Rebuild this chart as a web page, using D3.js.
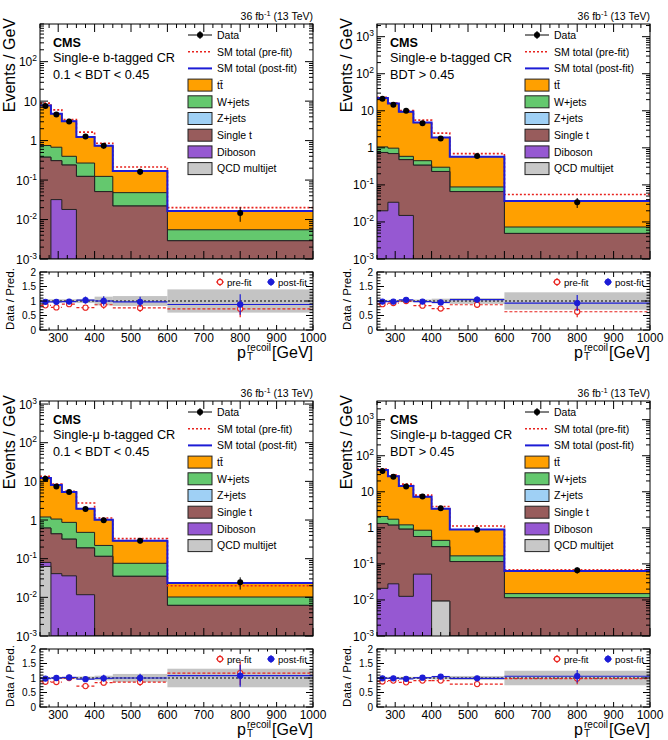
<!DOCTYPE html>
<html lang="en">
<head>
<meta charset="UTF-8">
<title>CMS single-lepton b-tagged control regions</title>
<script src="https://d3js.org/d3.v7.min.js"></script>
<style>
  body { margin: 0; background: #fff; }
  svg { display: block; font-family: "Liberation Sans", Arial, Helvetica, sans-serif; }
</style>
</head>
<body>
<svg width="668" height="740"></svg>
<script>
// binning and ticks
const binEdges = [250, 280, 310, 350, 400, 450, 600, 1000];
const xTickLabels = [300, 400, 500, 600, 700, 800, 900, 1000];
const ratioTickLabels = [0, 0.5, 1, 1.5, 2];

// single-e, 0.1 < BDT < 0.45
const eLowData    = [7.5, 4.6, 3.05, 1.27, 0.74, 0.163, 0.0146];
const eLowErr     = [0.04, 0.05, 0.05, 0.12, 0.16, 0.18, 0.40];
const eLowPre     = [8.9, 6.0, 3.4, 1.64, 0.86, 0.214, 0.020];
const eLowPost    = [7.8, 4.8, 3.1, 1.23, 0.74, 0.169, 0.0164];
const eLowTT      = [7.05, 4.12, 2.70, 0.96, 0.616, 0.121, 0.0109];
const eLowW       = [0.37, 0.37, 0.16, 0.146, 0.073, 0.026, 0.0026];
const eLowZ       = [0, 0, 0, 0, 0, 0, 0];
const eLowTop     = [0.38, 0.278, 0.222, 0.124, 0.051, 0.022, 0.0029];
const eLowVV      = [0, 0.032, 0.018, 0, 0, 0, 0];
const eLowQCD     = [0, 0, 0, 0, 0, 0, 0];
const eLowRPre    = [0.85, 0.78, 0.89, 0.77, 0.87, 0.76, 0.73];
const eLowRPost   = [0.97, 0.97, 0.98, 1.03, 1.0, 0.97, 0.88];
const eLowBand    = [0.06, 0.06, 0.06, 0.07, 0.15, 0.17, 0.40];

// single-e, BDT > 0.45
const eHighData   = [21, 14.5, 10, 4.6, 1.78, 0.60, 0.034];
const eHighErr    = [0.03, 0.04, 0.04, 0.06, 0.10, 0.10, 0.30];
const eHighPre    = [23, 16.4, 10.2, 5.6, 2.5, 0.70, 0.055];
const eHighPost   = [22, 15.7, 9.4, 4.8, 1.9, 0.575, 0.0365];
const eHighTT     = [20.94, 14.72, 8.81, 4.35, 1.60, 0.487, 0.0292];
const eHighW      = [0.31, 0.28, 0.11, 0.11, 0.07, 0.022, 0.0024];
const eHighZ      = [0, 0, 0, 0, 0, 0, 0];
const eHighTop    = [0.73, 0.666, 0.465, 0.34, 0.23, 0.066, 0.0049];
const eHighVV     = [0.020, 0.034, 0.015, 0, 0, 0, 0];
const eHighQCD    = [0, 0, 0, 0, 0, 0, 0];
const eHighRPre   = [0.89, 0.93, 1.0, 0.84, 0.74, 0.87, 0.63];
const eHighRPost  = [0.98, 0.98, 1.04, 0.98, 0.95, 1.05, 0.93];
const eHighBand   = [0.04, 0.04, 0.04, 0.05, 0.08, 0.10, 0.30];

// single-mu, 0.1 < BDT < 0.45
const muLowData   = [11.7, 7.4, 5.3, 1.92, 0.98, 0.29, 0.0244];
const muLowErr    = [0.04, 0.05, 0.06, 0.08, 0.12, 0.15, 0.35];
const muLowPre    = [13.5, 8.5, 5.5, 2.75, 1.13, 0.33, 0.020];
const muLowPost   = [12.2, 8.0, 5.3, 1.96, 1.02, 0.29, 0.0235];
const muLowTT     = [11.0, 6.94, 4.43, 1.48, 0.80, 0.214, 0.0133];
const muLowW      = [0.58, 0.62, 0.55, 0.29, 0.105, 0.041, 0.004];
const muLowZ      = [0, 0, 0, 0, 0, 0, 0];
const muLowTop    = [0.54, 0.399, 0.284, 0.178, 0.115, 0.035, 0.0062];
const muLowVV     = [0.017, 0.041, 0.036, 0.0117, 0, 0, 0];
const muLowQCD    = [0.063, 0, 0, 0, 0, 0, 0];
const muLowRPre   = [0.87, 0.86, 1.0, 0.72, 0.84, 0.86, 1.17];
const muLowRPost  = [0.98, 1.0, 1.02, 0.96, 0.99, 1.0, 1.08];
const muLowBand   = [0.04, 0.04, 0.04, 0.05, 0.08, 0.14, 0.32];

// single-mu, BDT > 0.45
const muHighData  = [38, 26, 14, 7.4, 3.5, 0.88, 0.067];
const muHighErr   = [0.03, 0.03, 0.04, 0.05, 0.07, 0.06, 0.20];
const muHighPre   = [42.6, 29, 16.3, 8.1, 3.9, 1.12, 0.069];
const muHighPost  = [40, 27, 14.4, 7.3, 3.4, 0.90, 0.064];
const muHighTT    = [37.9, 25.3, 13.2, 6.44, 2.95, 0.733, 0.049];
const muHighW     = [0.75, 0.55, 0.29, 0.285, 0.15, 0.051, 0.0035];
const muHighZ     = [0, 0, 0, 0, 0, 0, 0];
const muHighTop   = [1.30, 1.16, 0.907, 0.523, 0.291, 0.116, 0.0115];
const muHighVV    = [0.021, 0.028, 0.0126, 0.052, 0, 0, 0];
const muHighQCD   = [0, 0, 0, 0, 0.0093, 0, 0];
const muHighRPre  = [0.88, 0.91, 0.85, 0.91, 0.91, 0.79, 0.98];
const muHighRPost = [0.99, 0.99, 0.97, 1.01, 1.05, 0.99, 1.06];
const muHighBand  = [0.04, 0.04, 0.04, 0.04, 0.05, 0.07, 0.25];

const stackKeys = ["qcd", "vv", "top", "z", "w", "tt"];
const colors = { tt: "#ffa000", w: "#64c86e", z: "#9fd0f5", top: "#985c5c", vv: "#9658d2", qcd: "#c8c8c8" };
const preColor = "#e8231e", postColor = "#1c1cd6";

const panels = [
  { lep: "e", bdt: "0.1 < BDT < 0.45", yTop: 900, ox: 0, oy: 0,
    data: eLowData, err: eLowErr, pre: eLowPre, post: eLowPost,
    tt: eLowTT, w: eLowW, z: eLowZ, top: eLowTop, vv: eLowVV, qcd: eLowQCD,
    rPre: eLowRPre, rPost: eLowRPost, band: eLowBand },
  { lep: "e", bdt: "BDT > 0.45", yTop: 2200, ox: 337, oy: 0,
    data: eHighData, err: eHighErr, pre: eHighPre, post: eHighPost,
    tt: eHighTT, w: eHighW, z: eHighZ, top: eHighTop, vv: eHighVV, qcd: eHighQCD,
    rPre: eHighRPre, rPost: eHighRPost, band: eHighBand },
  { lep: "\u03bc", bdt: "0.1 < BDT < 0.45", yTop: 1200, ox: 0, oy: 377,
    data: muLowData, err: muLowErr, pre: muLowPre, post: muLowPost,
    tt: muLowTT, w: muLowW, z: muLowZ, top: muLowTop, vv: muLowVV, qcd: muLowQCD,
    rPre: muLowRPre, rPost: muLowRPost, band: muLowBand },
  { lep: "\u03bc", bdt: "BDT > 0.45", yTop: 3300, ox: 337, oy: 377,
    data: muHighData, err: muHighErr, pre: muHighPre, post: muHighPost,
    tt: muHighTT, w: muHighW, z: muHighZ, top: muHighTop, vv: muHighVV, qcd: muHighQCD,
    rPre: muHighRPre, rPost: muHighRPost, band: muHighBand }
];

const svg = d3.select("svg");
// frame geometry inside one panel
const L = 40, R = 313, T = 24, B = 259, RT = 272, RB = 330;
const x = d3.scaleLinear().domain([250, 1000]).range([L, R]);
const yr = d3.scaleLinear().domain([0, 2]).range([RB, RT]);
const centers = binEdges.slice(0, -1).map((e, i) => (e + binEdges[i + 1]) / 2);

function tick(g, x1, y1, x2, y2) {
  g.append("line").attr("x1", x1).attr("y1", y1).attr("x2", x2).attr("y2", y2)
    .attr("stroke", "#000").attr("stroke-width", 1);
}

function drawPanel(p, idx) {
  const g = svg.append("g").attr("transform", `translate(${p.ox},${p.oy})`);
  const y = d3.scaleLog().domain([1e-3, p.yTop]).range([B, T]);
  const cl = v => Math.max(v, 1e-3);
  const pts = vals => binEdges.map((e, i) => [e, vals[Math.min(i, vals.length - 1)]]);
  const line = d3.line().curve(d3.curveStepAfter).x(d => x(d[0])).y(d => y(cl(d[1])));
  const area = d3.area().curve(d3.curveStepAfter).x(d => x(d[0])).y0(B).y1(d => y(cl(d[1])));

  g.append("clipPath").attr("id", "main" + idx).append("rect")
    .attr("x", L).attr("y", T).attr("width", R - L).attr("height", B - T);
  g.append("clipPath").attr("id", "ratio" + idx).append("rect")
    .attr("x", L).attr("y", RT).attr("width", R - L).attr("height", RB - RT);

  // stacked backgrounds
  const plot = g.append("g").attr("clip-path", `url(#main${idx})`);
  const rows = centers.map((c, i) => { const r = {}; stackKeys.forEach(k => r[k] = p[k][i]); return r; });
  const series = d3.stack().keys(stackKeys)(rows);
  series.slice().reverse().forEach(s => {
    const tops = s.map(d => d[1]);
    plot.append("path").attr("d", area(pts(tops))).attr("fill", colors[s.key]);
    plot.append("path").attr("d", line(pts(tops))).attr("fill", "none")
      .attr("stroke", "#222").attr("stroke-width", 1);
  });
  plot.append("path").attr("d", line(pts(p.pre))).attr("fill", "none")
    .attr("stroke", preColor).attr("stroke-width", 1.6).attr("stroke-dasharray", "2,2");
  plot.append("path").attr("d", line(pts(p.post))).attr("fill", "none")
    .attr("stroke", postColor).attr("stroke-width", 2);

  // data
  p.data.forEach((v, i) => {
    plot.append("line").attr("x1", x(centers[i])).attr("x2", x(centers[i]))
      .attr("y1", y(v * (1 + p.err[i]))).attr("y2", y(v * (1 - p.err[i])))
      .attr("stroke", "#000").attr("stroke-width", 1);
    plot.append("circle").attr("cx", x(centers[i])).attr("cy", y(v)).attr("r", 3).attr("fill", "#000");
  });

  // ratio pad
  const rp = g.append("g").attr("clip-path", `url(#ratio${idx})`);
  p.band.forEach((b, i) => {
    rp.append("rect").attr("x", x(binEdges[i])).attr("width", x(binEdges[i + 1]) - x(binEdges[i]))
      .attr("y", yr(1 + b)).attr("height", yr(1 - b) - yr(1 + b)).attr("fill", "#c4c4c4");
  });
  rp.append("line").attr("x1", L).attr("x2", R).attr("y1", yr(1)).attr("y2", yr(1))
    .attr("stroke", "#000").attr("stroke-width", 1).attr("stroke-dasharray", "2,2");
  [[p.rPre, preColor, "3,2", false], [p.rPost, postColor, null, true]].forEach(([vals, col, dash, filled]) => {
    vals.forEach((v, i) => {
      const hl = rp.append("line").attr("x1", x(binEdges[i])).attr("x2", x(binEdges[i + 1]))
        .attr("y1", yr(v)).attr("y2", yr(v)).attr("stroke", col).attr("stroke-width", 1.2);
      if (dash) hl.attr("stroke-dasharray", dash);
      rp.append("line").attr("x1", x(centers[i])).attr("x2", x(centers[i]))
        .attr("y1", yr(v * (1 + p.err[i]))).attr("y2", yr(v * (1 - p.err[i])))
        .attr("stroke", col).attr("stroke-width", 1.2);
      rp.append("circle").attr("cx", x(centers[i])).attr("cy", yr(v)).attr("r", 2.6)
        .attr("fill", filled ? col : "#fff").attr("stroke", col).attr("stroke-width", 1.1);
    });
  });

  // frames
  [[T, B], [RT, RB]].forEach(([t, b]) => {
    g.append("rect").attr("x", L).attr("y", t).attr("width", R - L).attr("height", b - t)
      .attr("fill", "none").attr("stroke", "#000").attr("stroke-width", 1);
  });

  // x ticks
  d3.range(250, 1001, 25).forEach(v => {
    const major = v % 100 === 0;
    const lm = major ? 8 : 4, lr = major ? 5 : 2.5;
    tick(g, x(v), B, x(v), B - lm); tick(g, x(v), T, x(v), T + lm);
    tick(g, x(v), RB, x(v), RB - lr); tick(g, x(v), RT, x(v), RT + lr);
  });
  xTickLabels.forEach(v => {
    g.append("text").attr("x", x(v)).attr("y", 342).attr("text-anchor", "middle")
      .attr("font-size", 12).text(v);
  });

  // log y ticks
  d3.range(-3, 4).forEach(k => {
    d3.range(1, 10).forEach(m => {
      const v = m * Math.pow(10, k);
      if (v < 1e-3 || v > p.yTop) return;
      const len = m === 1 ? 8 : 4;
      tick(g, L, y(v), L + len, y(v)); tick(g, R, y(v), R - len, y(v));
    });
    const v = Math.pow(10, k);
    if (v > p.yTop) return;
    const t = g.append("text").attr("x", 37).attr("y", y(v) + 4.5).attr("text-anchor", "end").attr("font-size", 12);
    if (k === 0) t.text("1");
    else if (k === 1) t.text("10");
    else {
      t.append("tspan").text("10");
      t.append("tspan").attr("dy", -5).attr("font-size", 8.5).text(k < 0 ? "-" + (-k) : k);
    }
  });

  // ratio y ticks
  d3.range(0, 21).forEach(j => {
    const v = j / 10, len = j % 5 === 0 ? 7 : 3.5;
    tick(g, L, yr(v), L + len, yr(v)); tick(g, R, yr(v), R - len, yr(v));
  });
  ratioTickLabels.forEach(v => {
    g.append("text").attr("x", 36).attr("y", yr(v) + 3.5).attr("text-anchor", "end")
      .attr("font-size", 10).text(v);
  });

  // axis titles
  g.append("text").attr("transform", "translate(15,18) rotate(-90)").attr("text-anchor", "end")
    .attr("font-size", 16).text("Events / GeV");
  g.append("text").attr("transform", `translate(14,${RT - 4}) rotate(-90)`).attr("text-anchor", "end")
    .attr("font-size", 11.6).text("Data / Pred.");
  g.append("text").attr("x", R).attr("y", 357.5).attr("text-anchor", "end").attr("font-size", 16).text("[GeV]");
  g.append("text").attr("x", 246).attr("y", 357.5).attr("text-anchor", "end").attr("font-size", 16).text("p");
  g.append("text").attr("x", 247).attr("y", 350.5).attr("font-size", 10).text("recoil");
  g.append("text").attr("x", 247).attr("y", 360).attr("font-size", 10).text("T");

  // lumi, labels
  const lumi = g.append("text").attr("x", R).attr("y", 19.5).attr("text-anchor", "end").attr("font-size", 10.5);
  lumi.append("tspan").text("36 fb");
  lumi.append("tspan").attr("dy", -4).attr("font-size", 7.5).text("-1");
  lumi.append("tspan").attr("dy", 4).text(" (13 TeV)");
  g.append("text").attr("x", 53).attr("y", 46.5).attr("font-size", 12.6).attr("font-weight", "bold").text("CMS");
  g.append("text").attr("x", 53).attr("y", 62).attr("font-size", 12.7).text(`Single-${p.lep} b-tagged CR`);
  g.append("text").attr("x", 53).attr("y", 79).attr("font-size", 12.7).text(p.bdt);

  // legend
  const legendEntries = [
    { label: "Data", kind: "data" },
    { label: "SM total (pre-fit)", kind: "pre" },
    { label: "SM total (post-fit)", kind: "post" },
    { label: "tt\u0304", kind: "tt" },
    { label: "W+jets", kind: "w" },
    { label: "Z+jets", kind: "z" },
    { label: "Single t", kind: "top" },
    { label: "Diboson", kind: "vv" },
    { label: "QCD multijet", kind: "qcd" }
  ];
  legendEntries.forEach((e, i) => {
    const cy = 35 + i * 16.7;
    if (e.kind === "data") {
      tick(g, 188, cy, 212, cy);
      tick(g, 200, cy - 4, 200, cy + 4);
      g.append("circle").attr("cx", 200).attr("cy", cy).attr("r", 3).attr("fill", "#000");
    } else if (e.kind === "pre") {
      g.append("line").attr("x1", 188).attr("x2", 212).attr("y1", cy).attr("y2", cy)
        .attr("stroke", preColor).attr("stroke-width", 1.6).attr("stroke-dasharray", "2,2");
    } else if (e.kind === "post") {
      g.append("line").attr("x1", 188).attr("x2", 212).attr("y1", cy).attr("y2", cy)
        .attr("stroke", postColor).attr("stroke-width", 2);
    } else {
      g.append("rect").attr("x", 188).attr("y", cy - 6).attr("width", 24).attr("height", 12)
        .attr("fill", colors[e.kind]).attr("stroke", "#222").attr("stroke-width", 1);
    }
    g.append("text").attr("x", 217).attr("y", cy + 3.8).attr("font-size", 10.5).text(e.label);
  });

  // ratio legend
  [[220, "pre-fit", preColor, false], [271, "post-fit", postColor, true]].forEach(([cx, lab, col, filled]) => {
    const cy = 282;
    g.append("line").attr("x1", cx - 4).attr("x2", cx + 4).attr("y1", cy).attr("y2", cy).attr("stroke", col);
    g.append("line").attr("x1", cx).attr("x2", cx).attr("y1", cy - 4).attr("y2", cy + 4).attr("stroke", col);
    g.append("circle").attr("cx", cx).attr("cy", cy).attr("r", 2.6)
      .attr("fill", filled ? col : "#fff").attr("stroke", col).attr("stroke-width", 1.1);
    g.append("text").attr("x", cx + 7).attr("y", cy + 3.5).attr("font-size", 9.6).text(lab);
  });
}

panels.forEach((p, i) => drawPanel(p, i));
</script>
</body>
</html>
